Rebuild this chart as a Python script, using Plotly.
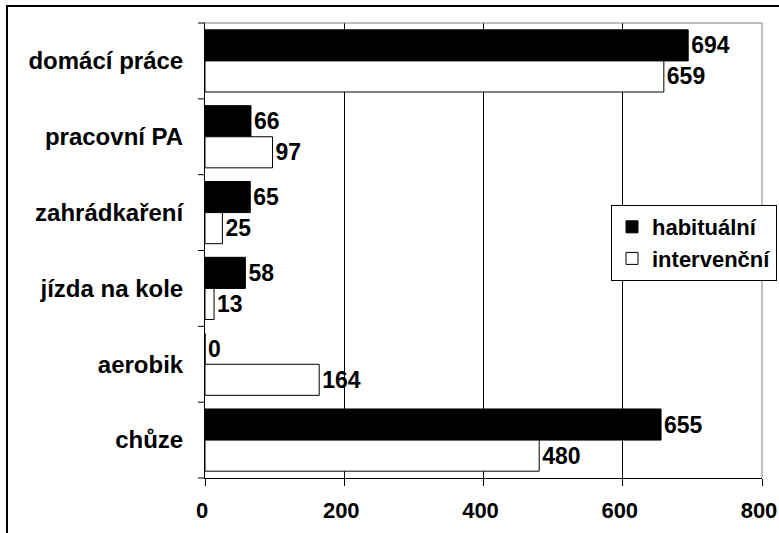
import plotly.graph_objects as go

categories = ["domácí práce", "pracovní PA", "zahrádkaření", "jízda na kole", "aerobik", "chůze"]
habitualni = [694, 66, 65, 58, 0, 655]
intervencni = [659, 97, 25, 13, 164, 480]
x_ticks = [0, 200, 400, 600, 800]

W, H = 779, 533
L, R, T, B = 205, 17, 23, 55
pw, ph = W - L - R, H - T - B

font = dict(family="Liberation Sans, Arial, sans-serif", size=23, color="black", weight="bold")
cat_font = dict(font, size=24)
small_font = dict(font, size=22)

fig = go.Figure()
fig.add_trace(go.Bar(
    y=categories, x=habitualni, orientation="h", name="habituální",
    marker=dict(color="black", line=dict(color="black", width=1)),
    text=[str(v) for v in habitualni], textposition="outside",
    textfont=font, constraintext="none", cliponaxis=False,
))
fig.add_trace(go.Bar(
    y=categories, x=intervencni, orientation="h", name="intervenční",
    marker=dict(color="white", line=dict(color="black", width=1)),
    text=[str(v) for v in intervencni], textposition="outside",
    textfont=font, constraintext="none", cliponaxis=False,
))

def px_x(p):
    return (p - L) / pw

def px_y(p):
    return (H - B - p) / ph

fig.update_layout(
    width=W, height=H,
    margin=dict(l=L, r=R, t=T, b=B, pad=0, autoexpand=False),
    paper_bgcolor="white", plot_bgcolor="white",
    barmode="group", bargap=0.18, bargroupgap=0,
    font=font,
    showlegend=True,
    legend=dict(
        x=px_x(611), y=px_y(205), xanchor="left", yanchor="top",
        bordercolor="black", borderwidth=1, bgcolor="white",
        font=small_font, itemwidth=30, tracegroupgap=0,
    ),
    xaxis=dict(
        range=[0, 800], tickvals=x_ticks, ticktext=[str(v) for v in x_ticks],
        showgrid=True, gridcolor="black", gridwidth=1,
        showline=True, linecolor="black", linewidth=1,
        ticks="outside", ticklen=7, tickcolor="black",
        tickfont=small_font, zeroline=False, ticklabelstandoff=6,
        ticklabelshift=-3,
        ticklabeloverflow="allow", automargin=False,
    ),
    yaxis=dict(
        autorange="reversed", showgrid=False,
        showline=True, linecolor="black", linewidth=1,
        ticks="", tickfont=cat_font, ticklabelstandoff=16, automargin=False,
    ),
    shapes=[
        dict(type="line", xref="paper", yref="paper", x0=0, x1=1, y0=1, y1=1,
             line=dict(color="#808080", width=1)),
        dict(type="line", xref="paper", yref="paper", x0=1, x1=1, y0=0, y1=1,
             line=dict(color="#808080", width=1)),
        dict(type="rect", xref="paper", yref="paper",
             x0=px_x(7), x1=px_x(800), y0=px_y(550), y1=px_y(6),
             line=dict(color="black", width=2), layer="below"),
    ],
)

n = len(categories)
for i in range(n + 1):
    fig.add_shape(type="line", xref="paper", yref="paper",
                  x0=px_x(198), x1=0, y0=i / n, y1=i / n,
                  line=dict(color="black", width=1))

fig.write_html("out.html")
